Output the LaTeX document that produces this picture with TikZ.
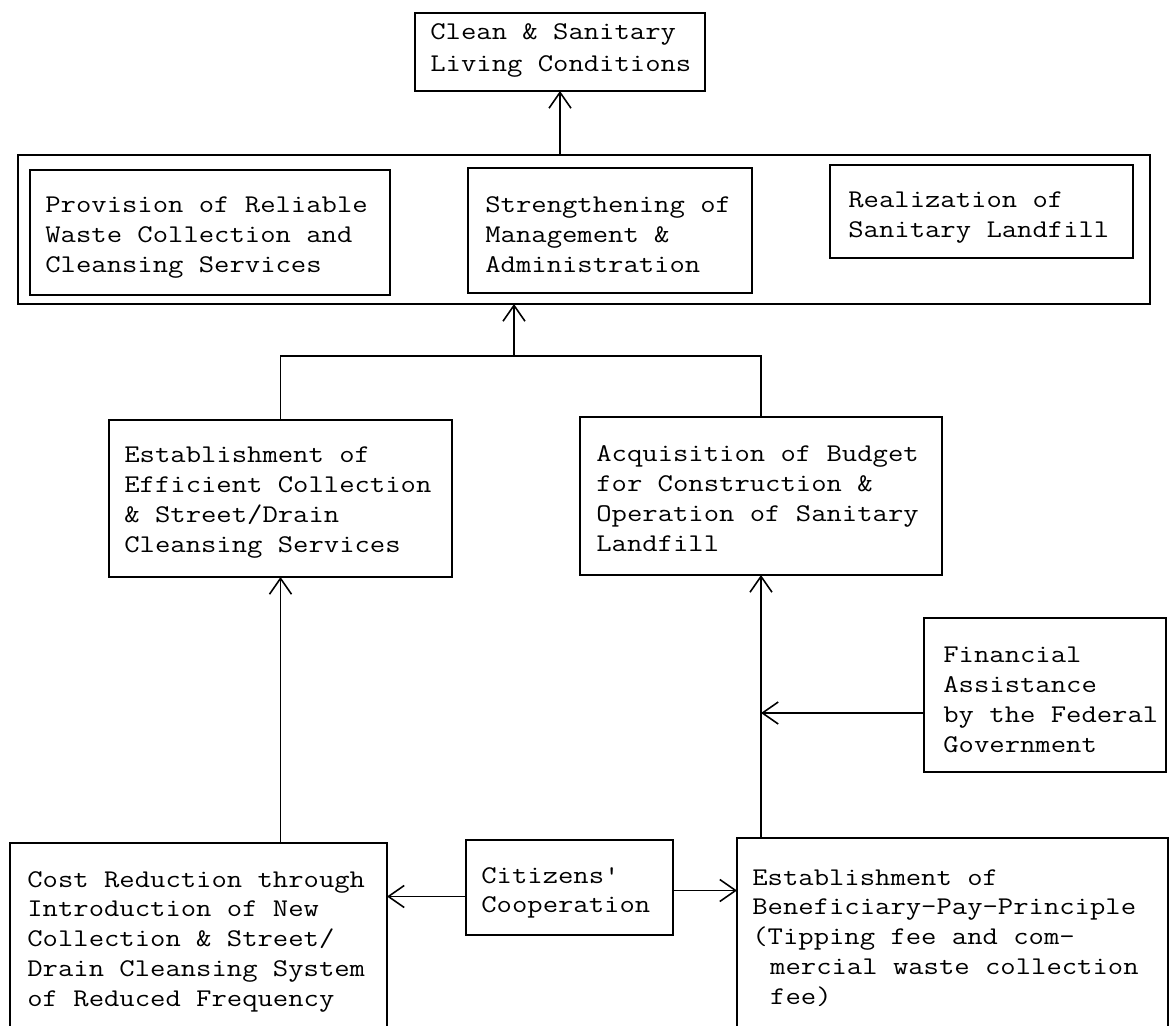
\documentclass[tikz,border=0pt]{standalone}
\usepackage{graphicx}
\usetikzlibrary{arrows.meta,fit,calc}
% several lines of widened typewriter text, first baseline at the node's base
\newcommand\txtlines[1]{\scalebox{1.17}[1]{\parbox[t]{10cm}{#1}}}
\begin{document}
\begin{tikzpicture}[x=0.02cm,y=-0.02cm,
  box/.style={draw, line width=1pt, inner sep=0pt, outer sep=0pt, fit={#1}},
  lbl/.style={anchor=base west, inner sep=0pt,
    font=\ttfamily\fontsize{14.5}{17}\selectfont},
  link/.style={line width=0.9pt},
  arr/.style={-{Straight Barb[length=9pt,width=12.5pt,line width=0.9pt]}}]

\useasboundingbox[fill=white] (0,0) rectangle (1176,1026);

% goal
\node[box={(415,13) (705,91)}] (top) {};
\node[lbl] (top-t) at (430,40) {\txtlines{Clean \& Sanitary\\[1pt]Living Conditions}};

% project purpose with its three parts
\node[box={(18,155) (1150,304)}] (outer) {};
\node[box={(30,170) (390,295)}] (prov) {};
\node[lbl] (prov-t) at (45,213) {\txtlines{Provision of Reliable\\Waste Collection and\\Cleansing Services}};
\node[box={(468,168) (752,293)}] (stren) {};
\node[lbl] (stren-t) at (485,213) {\txtlines{Strengthening of\\Management \&\\Administration}};
\node[box={(830,165) (1133,258)}] (real) {};
\node[lbl] (real-t) at (848,208) {\txtlines{Realization of\\Sanitary Landfill}};

% outputs
\node[box={(109,420) (452,577)}] (estab) {};
\node[lbl] (estab-t) at (124,463) {\txtlines{Establishment of\\Efficient Collection\\\& Street/Drain\\Cleansing Services}};
\node[box={(580,417) (942,575)}] (acq) {};
\node[lbl] (acq-t) at (596,462) {\txtlines{Acquisition of Budget\\for Construction \&\\Operation of Sanitary\\Landfill}};

% inputs
\node[box={(924,618) (1166,772)}] (fin) {};
\node[lbl] (fin-t) at (943,663) {\txtlines{Financial\\Assistance\\by the Federal\\Government}};
\node[box={(10,843) (387,1045)}] (cost) {};
\node[lbl] (cost-t) at (27,887) {\txtlines{Cost Reduction through\\Introduction of New\\Collection \& Street/\\Drain Cleansing System\\of Reduced Frequency}};
\node[box={(466,840) (673,935)}] (cit) {};
\node[lbl] (cit-t) at (481,883) {\txtlines{Citizens'\\Cooperation}};
\node[box={(737,838) (1168,1045)}] (bpp) {};
\node[lbl] (bpp-t) at (752,885) {\txtlines{Establishment of\\Beneficiary-Pay-Principle\\(Tipping fee and com-\\\hspace*{0.6em}mercial waste collection\\\hspace*{0.6em}fee)}};

% connectors
\draw[link,arr] (top.south |- outer.north) -- (top.south);
\coordinate (jn) at (514,356);
\draw[link] (estab.north) |- (jn) -| (acq.north);
\draw[link,arr] (jn) -- (jn |- outer.south);
\draw[link,arr] (estab.south |- cost.north) -- (estab.south);
\draw[link,arr] (acq.south |- bpp.north) -- (acq.south);
\coordinate (finjoin) at ($(fin.west)+(0,18)$);
\draw[link,arr] (finjoin) -- (finjoin -| acq.south);
\coordinate (citL) at ($(cit.west)+(0,9)$);
\draw[link,arr] (citL) -- (citL -| cost.east);
\coordinate (citR) at ($(cit.east)+(0,3)$);
\draw[link,arr] (citR) -- (citR -| bpp.west);
\end{tikzpicture}
\end{document}
